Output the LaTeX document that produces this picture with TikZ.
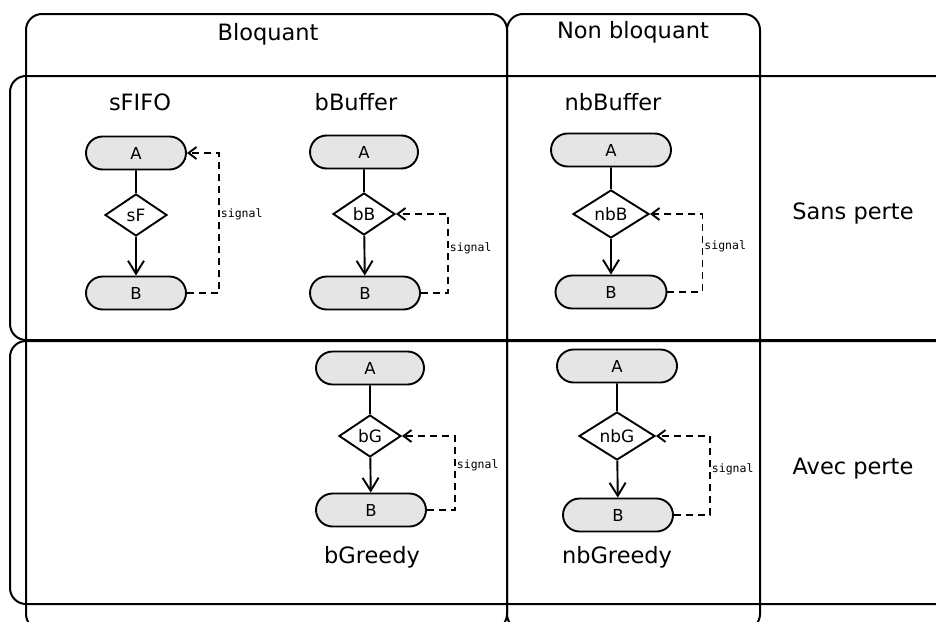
\documentclass[tikz,border=0pt]{standalone}
\usepackage{fontspec}
\setmainfont{DejaVu Sans}
\newfontfamily\monofont{DejaVu Sans Mono}
\usetikzlibrary{shapes.geometric,shapes.misc,arrows.meta}
\tikzset{
  frame/.style={draw=black, line width=2pt, rounded corners=16pt},
  title/.style={font=\fontsize{22.5}{27}\selectfont, inner sep=0pt},
  pill/.style={draw, line width=1.9pt, fill=gray!20, rounded rectangle, minimum width=#1, minimum height=33pt, inner sep=0pt, font=\fontsize{16.5}{19}\selectfont},
  pill/.default=100pt,
  dia/.style={draw, line width=1.9pt, fill=white, diamond, inner sep=0pt, font=\fontsize{17}{20}\selectfont},
  small/.style={dia, minimum width=62pt, minimum height=42pt},
  big/.style={dia, minimum width=76pt, minimum height=48pt},
  flow/.style={line width=1.9pt},
  flowarr/.style={line width=1.9pt, -{Straight Barb[length=13pt,width=16pt]}},
  sig/.style={line width=1.9pt, dash pattern=on 7pt off 5pt, -{Straight Barb[length=8pt,width=12pt]}},
  siglab/.style={font=\monofont\fontsize{11.5}{13}\selectfont, right, inner sep=1pt}
}
\begin{document}
\begin{tikzpicture}[x=1pt,y=-1pt]
\useasboundingbox (0,0) rectangle (936,621);
\clip (0,0) rectangle (936,621);
% frames
\draw[frame] (26,14) rectangle (507,630);
\draw[frame] (507,14) rectangle (760,630);
\draw[frame] (10,76) rectangle (956,340);
\draw[frame] (10,341) rectangle (956,604);
% titles
\node[title] (bloq) at (268,34) {Bloquant};
\node[title] (nbloq) at (633,32) {Non bloquant};
\node[title] (sp) at (853,213) {Sans perte};
\node[title] (ap) at (853,469) {Avec perte};
\node[title] (tsf) at (140,102) {sFIFO};
\node[title] (tbb) at (356,102) {bBuffer};
\node[title] (tnbb) at (613,102) {nbBuffer};
\node[title] (tbg) at (372,557) {bGreedy};
\node[title] (tnbg) at (617,557) {nbGreedy};
% sFIFO
\node[pill] (a1) at (136,153) {A};
\node[small] (d1) at (136,215) {sF};
\node[pill] (b1) at (136,293) {B};
\draw[flow] (a1) -- (d1);
\draw[flowarr] (d1) -- (b1);
\draw[sig] (b1.east) -- ++(32,0) |- node[siglab, pos=0.28] {signal} (a1.east);
% bBuffer
\node[pill=108pt] (a2) at (364,152) {A};
\node[small] (d2) at (364,214) {bB};
\node[pill=110pt] (b2) at (365,293) {B};
\draw[flow] (a2) -- (d2);
\draw[flowarr] (d2) -- (b2);
\draw[sig] (b2.east) -- ++(27,0) |- node[siglab, pos=0.285] {signal} (d2.east);
% nbBuffer
\node[pill=120pt] (a3) at (611,150) {A};
\node[big] (d3) at (611,214) {nbB};
\node[pill=111pt] (b3) at (611,292) {B};
\draw[flow] (a3) -- (d3);
\draw[flowarr] (d3) -- (b3);
\draw[sig] (b3.east) -- ++(35,0) |- node[siglab, pos=0.295] {signal} (d3.east);
% bGreedy
\node[pill=108pt] (a4) at (370,368) {A};
\node[small] (d4) at (370,436) {bG};
\node[pill=110pt] (b4) at (371,510) {B};
\draw[flow] (a4) -- (d4);
\draw[flowarr] (d4) -- (b4);
\draw[sig] (b4.east) -- ++(28,0) |- node[siglab, pos=0.3] {signal} (d4.east);
% nbGreedy
\node[pill=120pt] (a5) at (617,366) {A};
\node[big] (d5) at (617,436) {nbG};
\node[pill=110pt] (b5) at (618,515) {B};
\draw[flow] (a5) -- (d5);
\draw[flowarr] (d5) -- (b5);
\draw[sig] (b5.east) -- ++(36,0) |- node[siglab, pos=0.29] {signal} (d5.east);
\end{tikzpicture}
\end{document}
